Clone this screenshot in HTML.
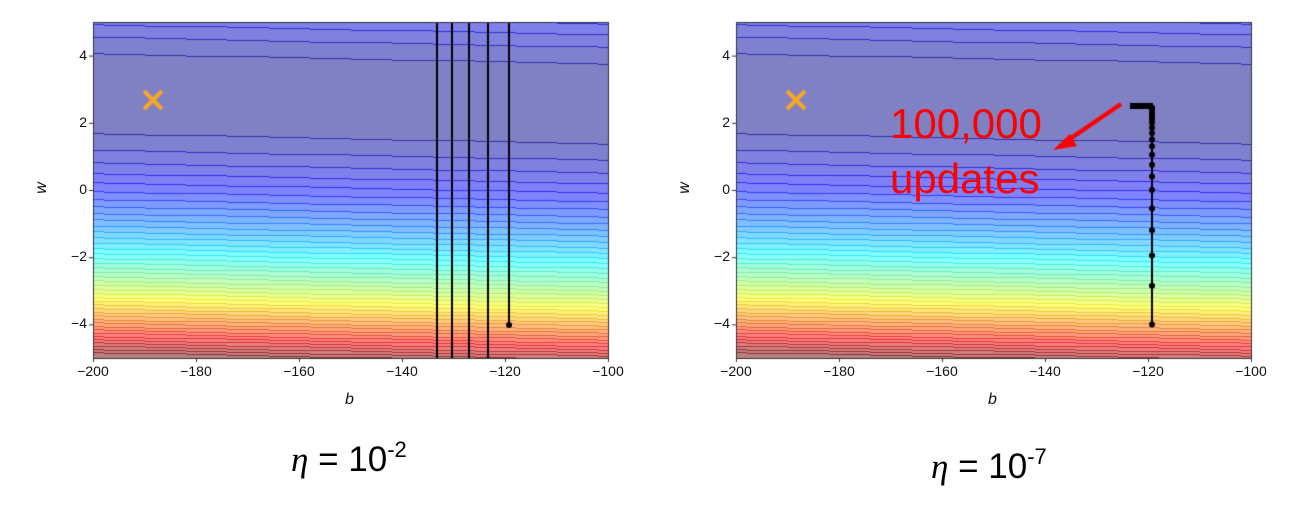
<!DOCTYPE html>
<html><head><meta charset="utf-8"><style>
body{margin:0;background:#fff;width:1301px;height:511px;overflow:hidden;position:relative;font-family:"Liberation Sans",sans-serif}
canvas{position:absolute;left:0;top:0}
.t{position:absolute;font-size:14px;color:#111}
.eq{position:absolute;font-size:35px;color:#000;white-space:nowrap}
.eq sup{font-size:22px;vertical-align:14px}
.red{position:absolute;color:#f00;font-size:42px;line-height:1}
</style></head><body>
<canvas id="c" width="1301" height="511"></canvas>
<div id="lab"></div>
<div class="eq" style="left:291px;top:437px"><i style="font-family:'Liberation Serif',serif">η</i> = 10<sup>-2</sup></div>
<div class="eq" style="left:931px;top:444px"><i style="font-family:'Liberation Serif',serif">η</i> = 10<sup>-7</sup></div>
<div class="red" style="left:890px;top:103px">100,000</div>
<div class="red" style="left:890px;top:158px">updates</div>
<script>
const c=document.getElementById('c').getContext('2d');
function jet(t){const f=v=>Math.max(0,Math.min(1,v));return [f(1.5-Math.abs(4*t-3)),f(1.5-Math.abs(4*t-2)),f(1.5-Math.abs(4*t-1))];}
function lv(w,b){const bq=Math.floor((b+150)/8)*8;const we=w+0.003*bq;const d=we-2.7;return Math.min(1,(d/7.7)*(d/7.7));}
const N=42;
function plot(X0){
 const X1=X0+515,Y0=22,Y1=358;
 const img=c.createImageData(X1-X0,Y1-Y0);
 for(let py=0;py<Y1-Y0;py++)for(let px=0;px<X1-X0;px++){
  const b=-200+px/5.15, w=5-py/33.6;
  const t=lv(w,b); const k=Math.floor(t*N); const tc=(k+0.5)/N;
  const wa=lv(5-(py+1)/33.6,b); const ka=Math.floor(wa*N);
  let r,g,bb;
  if(ka!=k){const cl=jet(Math.max(k,ka)/N);const a=0.8;r=255*(cl[0]*a+1-a)*0.92;g=255*(cl[1]*a+1-a)*0.92;bb=255*(cl[2]*a+1-a);}
  else{const col=jet(tc),a=0.5;r=255*(col[0]*a+1-a);g=255*(col[1]*a+1-a);bb=255*(col[2]*a+1-a);}
  const i=(py*(X1-X0)+px)*4;img.data[i]=r;img.data[i+1]=g;img.data[i+2]=bb;img.data[i+3]=255;}
 c.putImageData(img,X0,Y0);
 c.strokeStyle='#333';c.lineWidth=1;c.strokeRect(X0+0.5,Y0+0.5,515,336);
 const lab=document.getElementById('lab');
 for(let i=0;i<=5;i++){const x=X0+i*103;c.beginPath();c.moveTo(x+0.5,Y1);c.lineTo(x+0.5,Y1+4);c.stroke();
  lab.insertAdjacentHTML('beforeend',`<div class="t" style="left:${x-20}px;top:${Y1+5}px;width:40px;text-align:center">${'−'+(200-20*i)}</div>`);}
 for(const w of [-4,-2,0,2,4]){const y=Y0+(5-w)*33.6;c.beginPath();c.moveTo(X0-4,y+0.5);c.lineTo(X0,y+0.5);c.stroke();
  lab.insertAdjacentHTML('beforeend',`<div class="t" style="left:${X0-38}px;top:${y-9}px;width:32px;text-align:right">${w<0?'−'+(-w):w}</div>`);}
 lab.insertAdjacentHTML('beforeend',`<div class="t" style="left:${X0+252}px;top:391px;font-style:italic;font-size:16px">b</div><div class="t" style="left:${X0-57}px;top:179px;font-style:italic;font-size:16px;transform:rotate(-90deg)">w</div>`);
 c.strokeStyle='#f5a623';c.lineWidth=4;const ox=X0+60,oy=100;
 c.beginPath();c.moveTo(ox-9,oy-9);c.lineTo(ox+9,oy+9);c.moveTo(ox+9,oy-9);c.lineTo(ox-9,oy+9);c.stroke();
}
plot(93);plot(736);
c.strokeStyle='#000';c.fillStyle='#000';c.lineWidth=2;
for(const x of [437,452,469,488]){c.beginPath();c.moveTo(x,23);c.lineTo(x,358);c.stroke();}
c.beginPath();c.moveTo(509,23);c.lineTo(509,325);c.stroke();
c.beginPath();c.arc(509,325,3,0,7);c.fill();
c.lineWidth=2;c.beginPath();c.moveTo(1152,325);c.lineTo(1152,106);c.stroke();
c.lineWidth=6;c.beginPath();c.moveTo(1130,106);c.lineTo(1153,106);c.stroke();
const ws=[-4,-2.85,-1.95,-1.2,-0.55,0,0.4,0.75,1.05,1.3,1.5,1.7,1.85,2,2.1,2.2,2.3,2.4,2.45];
for(const w of ws){c.beginPath();c.arc(1152,22+(5-w)*33.6,3,0,7);c.fill();}
c.strokeStyle='#f00';c.fillStyle='#f00';c.lineWidth=4;
c.beginPath();c.moveTo(1121,104);c.lineTo(1064,143);c.stroke();
c.beginPath();c.moveTo(1053,150);c.lineTo(1070,134);c.lineTo(1077,146);c.closePath();c.fill();
</script>
</body></html>
